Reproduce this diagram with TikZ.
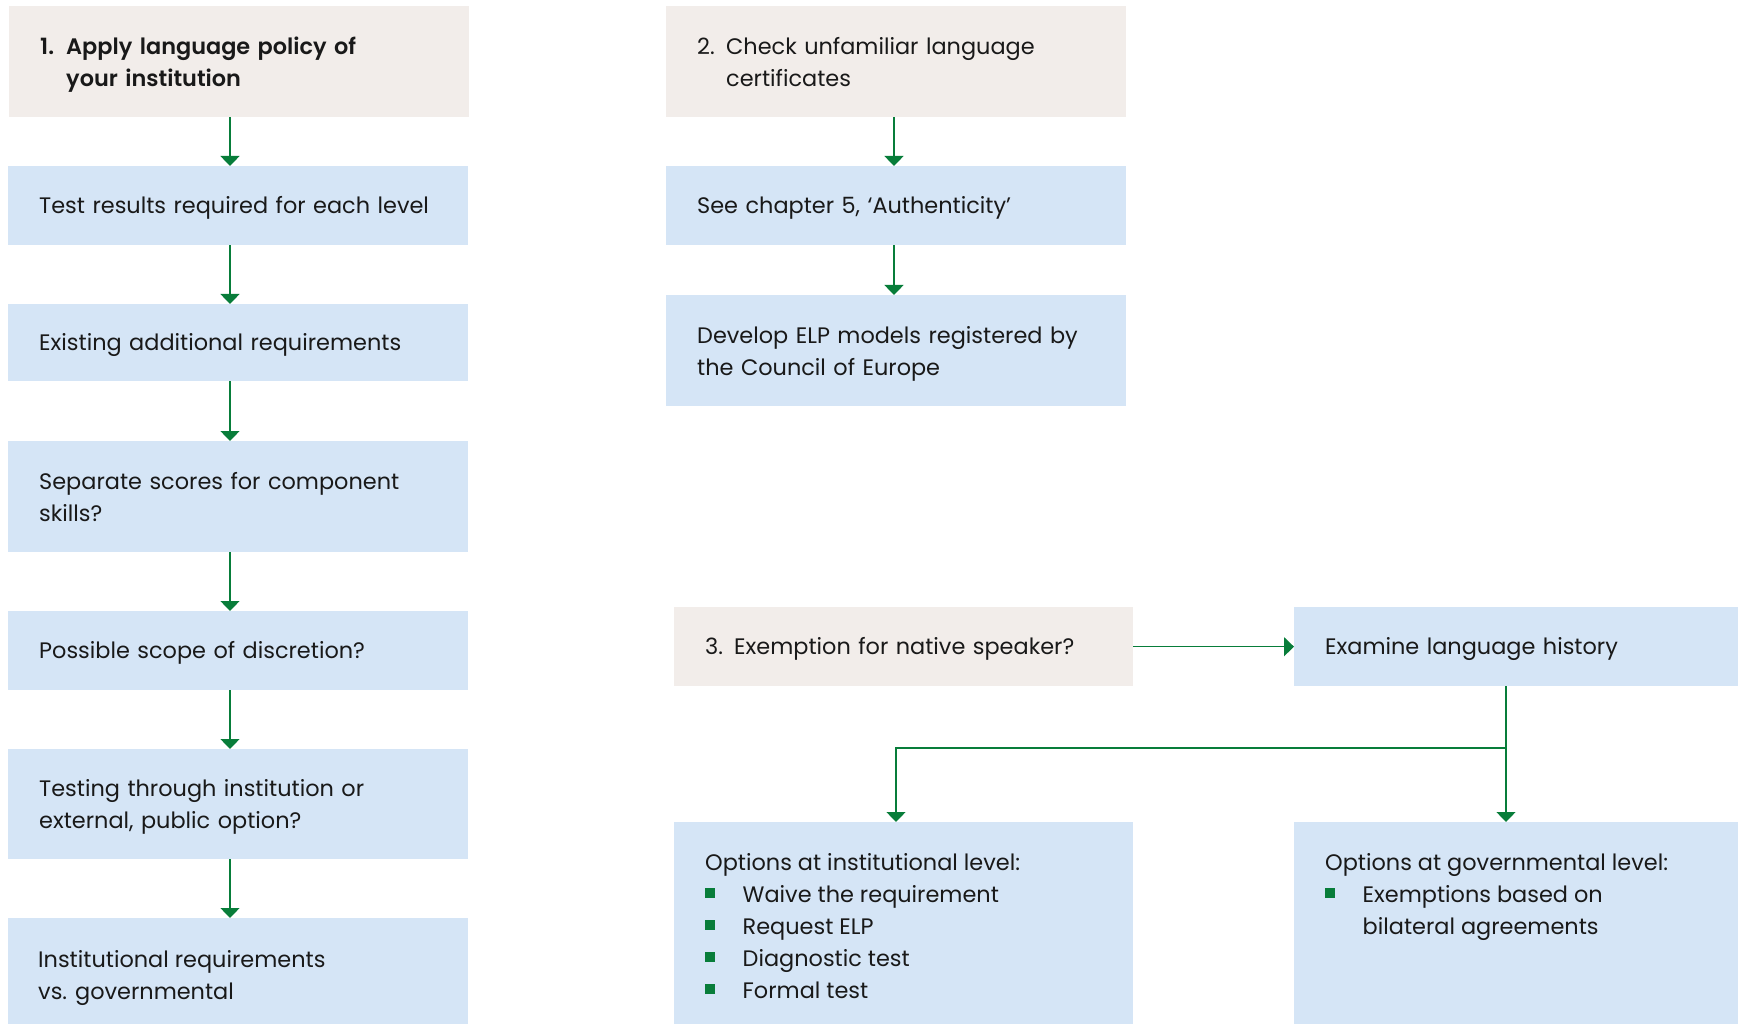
\documentclass[tikz,border=0pt]{standalone}
\usepackage{fontspec}
\setmainfont{Poppins}[BoldFont={Poppins SemiBold}]
\usetikzlibrary{arrows.meta}
\definecolor{beige}{RGB}{242,237,234}
\definecolor{paleblue}{RGB}{213,229,246}
\definecolor{flowgreen}{RGB}{8,125,58}
\definecolor{ink}{RGB}{25,25,25}
\newcommand\bodyfont{\fontsize{22.4}{32}\selectfont}
\newcommand\bulletsq{\makebox[37.5pt][l]{\textcolor{flowgreen}{\rule[4pt]{10pt}{10pt}}}}
\begin{document}
\begin{tikzpicture}[x=1pt,y=-1pt,
  base/.style={rectangle, draw=none, inner xsep=31pt, inner ysep=0pt,
    anchor=north west, align=left, font=\bodyfont, text=ink},
  policy/.style={base, fill=beige},
  infobox/.style={base, fill=paleblue},
  oneline/.style={text height=16pt, text depth=1pt},
  twolines/.style={text height=16pt, text depth=31pt},
  plaintext/.style={anchor=north west, inner sep=0pt, align=left, font=\bodyfont, text=ink},
  arr/.style={draw=flowgreen, line width=1.4pt,
    -{Triangle[width=19pt,length=10pt]}}]
\useasboundingbox (0,0) rectangle (1738,1024);

% left column
\node[policy, twolines, text width=398pt, minimum height=111pt] (p1) at (9,6)
  {\bfseries\makebox[26pt][l]{1.}Apply language policy of\\\hspace*{26pt}your institution};
\node[infobox, oneline, text width=398pt, minimum height=79pt] (t1) at (8,166)
  {Test results required for each level};
\node[infobox, oneline, text width=398pt, minimum height=77pt] (t2) at (8,304)
  {Existing additional requirements};
\node[infobox, twolines, text width=398pt, minimum height=111pt] (t3) at (8,441)
  {Separate scores for component\\skills?};
\node[infobox, oneline, text width=398pt, minimum height=79pt] (t4) at (8,611)
  {Possible scope of discretion?};
\node[infobox, twolines, text width=398pt, minimum height=110pt] (t5) at (8,749)
  {Testing through institution or\\external, public option?};
\node[infobox, text width=398pt, minimum height=112pt] (t6) at (8,918) {};
\node[plaintext] (t6t) at (38,950)
  {Institutional requirements\\vs. governmental};

\coordinate (a1) at (230,0);
\draw[arr] (p1.south -| a1) -- (t1.north -| a1);
\draw[arr] (t1.south -| a1) -- (t2.north -| a1);
\draw[arr] (t2.south -| a1) -- (t3.north -| a1);
\draw[arr] (t3.south -| a1) -- (t4.north -| a1);
\draw[arr] (t4.south -| a1) -- (t5.north -| a1);
\draw[arr] (t5.south -| a1) -- (t6.north -| a1);

% middle column
\node[policy, twolines, text width=398pt, minimum height=111pt] (p2) at (666,6)
  {\makebox[29pt][l]{2.}Check unfamiliar language\\\hspace*{29pt}certificates};
\node[infobox, oneline, text width=398pt, minimum height=79pt] (c1) at (666,166)
  {See chapter 5, ‘Authenticity’};
\node[infobox, twolines, text width=398pt, minimum height=111pt] (c2) at (666,295)
  {Develop ELP models registered by\\the Council of Europe};

\coordinate (a2) at (894,0);
\draw[arr] (p2.south -| a2) -- (c1.north -| a2);
\draw[arr] (c1.south -| a2) -- (c2.north -| a2);

% native speaker branch
\node[policy, oneline, text width=397pt, minimum height=79pt] (p3) at (674,607)
  {\makebox[29pt][l]{3.}Exemption for native speaker?};
\node[infobox, oneline, text width=400pt, minimum height=79pt] (e1) at (1294,607)
  {Examine language history};

\node[infobox, text width=397pt, minimum height=210pt] (o1) at (674,822) {};
\node[plaintext] (o1t) at (705,853)
  {Options at institutional level:\\
   \bulletsq Waive the requirement\\
   \bulletsq Request ELP\\
   \bulletsq Diagnostic test\\
   \bulletsq Formal test};
\node[infobox, text width=400pt, minimum height=210pt] (o2) at (1294,822) {};
\node[plaintext] (o2t) at (1325,853)
  {Options at governmental level:\\
   \bulletsq Exemptions based on\\
   \hspace*{37.5pt}bilateral agreements};

\draw[arr] (p3.east) -- (e1.west);
\coordinate (bx) at (1506,748);
\coordinate (lx) at (896,0);
\draw[arr] (e1.south -| bx) -- (o2.north -| bx);
\draw[arr] (bx) -| (o1.north -| lx);
\end{tikzpicture}
\end{document}
